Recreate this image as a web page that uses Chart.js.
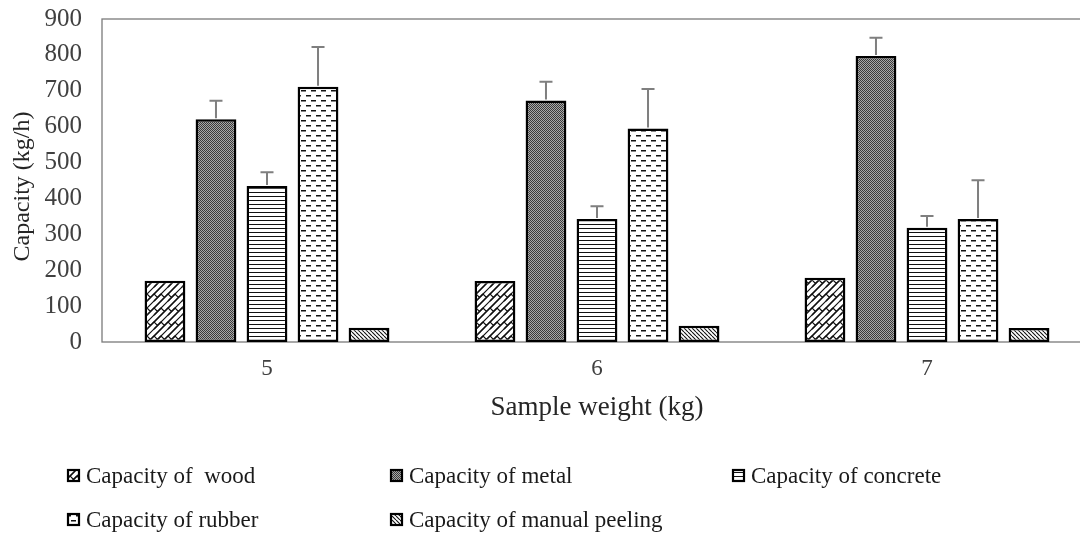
<!DOCTYPE html>
<html>
<head>
<meta charset="utf-8">
<script src="https://cdn.jsdelivr.net/npm/chart.js@4.4.1/dist/chart.umd.min.js"></script>
<style>
  html, body { margin: 0; padding: 0; background: #ffffff; overflow: hidden; }
  #wrap { position: relative; width: 1100px; height: 533px; }
</style>
</head>
<body>
<div id="wrap"><canvas id="c" width="1100" height="533"></canvas></div>
<script>
// ---- data ----
const categories = ['5', '6', '7'];
const seriesNames = ['Capacity of  wood', 'Capacity of metal', 'Capacity of concrete', 'Capacity of rubber', 'Capacity of manual peeling'];
const woodValues = [171, 170, 179];
const metalValues = [621, 673, 797];
const concreteValues = [435, 343, 318];
const rubberValues = [711, 595, 343];
const manualValues = [40, 45, 39];
const woodErr = [0, 0, 0];
const metalErr = [51, 52, 51];
const concreteErr = [38, 35, 33];
const rubberErr = [111, 110, 108];
const manualErr = [0, 0, 0];
const yTickValues = [0, 100, 200, 300, 400, 500, 600, 700, 800, 900];
const xTitle = 'Sample weight (kg)';
const yTitle = 'Capacity (kg/h)';

// ---- patterns ----
function makeTile(w, h, draw) {
  const c = document.createElement('canvas');
  c.width = w; c.height = h;
  const g = c.getContext('2d');
  g.fillStyle = '#ffffff';
  g.fillRect(0, 0, w, h);
  draw(g, w, h);
  return document.createElement('canvas').getContext('2d').createPattern(c, 'repeat');
}
const woodPat = makeTile(14, 14, (g) => {
  g.strokeStyle = '#111'; g.lineWidth = 1.2;
  for (const dx of [-14, 0, 14]) for (const dy of [-14, 0, 14]) {
    g.beginPath();
    for (const k of [0, 7, 14, 21, 28]) { g.moveTo(dx + k, dy); g.lineTo(dx, dy + k); }
    g.moveTo(dx + 0, dy + 0); g.lineTo(dx + 3.5, dy + 3.5);
    g.moveTo(dx + 7, dy + 0); g.lineTo(dx + 10.5, dy + 3.5);
    g.stroke();
  }
});
const metalPat = makeTile(2, 2, (g) => {
  g.fillStyle = '#3a3a3a'; g.fillRect(0, 0, 1, 1); g.fillRect(1, 1, 1, 1);
  g.fillStyle = '#a8a8a8'; g.fillRect(1, 0, 1, 1); g.fillRect(0, 1, 1, 1);
});
const concretePat = makeTile(4, 4, (g) => {
  g.fillStyle = '#111'; g.fillRect(0, 0, 4, 1);
});
const rubberPat = makeTile(10, 10, (g) => {
  g.fillStyle = '#111';
  g.fillRect(1, 0, 5, 1.5);
  g.fillRect(6, 5, 5, 1.5); g.fillRect(-4, 5, 5, 1.5);
});
const manualPat = makeTile(4, 4, (g) => {
  g.strokeStyle = '#111'; g.lineWidth = 1.1;
  g.beginPath();
  for (const d of [-4, 0, 4]) { g.moveTo(d, 0); g.lineTo(d + 4, 4); }
  g.stroke();
});

const seriesValues = [woodValues, metalValues, concreteValues, rubberValues, manualValues];
const seriesErrs = [woodErr, metalErr, concreteErr, rubberErr, manualErr];
const seriesPats = [woodPat, metalPat, concretePat, rubberPat, manualPat];

const datasets = seriesNames.map((name, i) => ({
  label: name,
  data: seriesValues[i],
  errors: seriesErrs[i],
  backgroundColor: seriesPats[i],
  borderColor: '#000000',
  borderWidth: 2.5,
  borderSkipped: false,
  categoryPercentage: 0.773,
  barPercentage: 0.8
}));

const FONT = "'Liberation Serif', 'Times New Roman', serif";

const errorBars = {
  id: 'errorBars',
  afterDatasetsDraw(chart) {
    const ctx = chart.ctx;
    const y = chart.scales.y;
    ctx.save();
    ctx.strokeStyle = '#7f7f7f';
    ctx.lineWidth = 2;
    chart.data.datasets.forEach((ds, di) => {
      const meta = chart.getDatasetMeta(di);
      meta.data.forEach((bar, i) => {
        const e = ds.errors[i];
        if (!e) return;
        const v = ds.data[i];
        const y0 = y.getPixelForValue(v);
        const y1 = y.getPixelForValue(v + e);
        ctx.beginPath();
        ctx.moveTo(bar.x, y0 - 1);
        ctx.lineTo(bar.x, y1);
        ctx.moveTo(bar.x - 6.5, y1);
        ctx.lineTo(bar.x + 6.5, y1);
        ctx.stroke();
      });
    });
    ctx.restore();
  }
};

const frame = {
  id: 'frame',
  beforeDatasetsDraw(chart) {
    const {ctx, chartArea: a} = chart;
    ctx.save();
    ctx.strokeStyle = '#7a7a7a';
    ctx.lineWidth = 1.3;
    ctx.strokeRect(a.left, a.top, a.right - a.left, a.bottom - a.top);
    ctx.restore();
  }
};

const legendPos = [
  {bx: 67, tx: 86, y: 483},
  {bx: 390, tx: 409, y: 483},
  {bx: 732, tx: 751, y: 483},
  {bx: 67, tx: 86, y: 527},
  {bx: 390, tx: 409, y: 527}
];
const customLegend = {
  id: 'customLegend',
  afterDraw(chart) {
    const ctx = chart.ctx;
    ctx.save();
    chart.data.datasets.forEach((ds, i) => {
      const p = legendPos[i];
      ctx.fillStyle = ds.backgroundColor;
      ctx.fillRect(p.bx, p.y - 14, 13, 13);
      ctx.strokeStyle = '#000';
      ctx.lineWidth = 2.2;
      ctx.strokeRect(p.bx + 1, p.y - 13, 11, 11);
      ctx.fillStyle = '#1a1a1a';
      ctx.font = '23px ' + FONT;
      ctx.textBaseline = 'alphabetic';
      ctx.textAlign = 'left';
      ctx.fillText(ds.label, p.tx, p.y);
    });
    ctx.restore();
  }
};

function zeroPad(s) { s.paddingTop = 0; s.paddingBottom = 0; s.paddingLeft = 0; s.paddingRight = 0; }

new Chart(document.getElementById('c'), {
  type: 'bar',
  data: { labels: categories, datasets },
  plugins: [frame, errorBars, customLegend],
  options: {
    responsive: false,
    animation: false,
    layout: { padding: { top: 19, right: 8, bottom: 101, left: 0 } },
    plugins: { legend: { display: false }, tooltip: { enabled: false } },
    scales: {
      x: {
        grid: { display: false, drawTicks: false },
        border: { display: false },
        ticks: { padding: 13, color: '#404040', font: { family: FONT, size: 23 } },
        title: { display: true, text: xTitle, color: '#262626', padding: { top: 4, bottom: 8 }, font: { family: FONT, size: 27 } },
        afterFit(s) { s.height = 90; zeroPad(s); }
      },
      y: {
        min: 0, max: 900,
        afterBuildTicks(s) { s.ticks = yTickValues.map(v => ({ value: v })); },
        grid: { display: false, drawTicks: false },
        border: { display: false },
        ticks: { padding: 20, color: '#404040', font: { family: FONT, size: 25 } },
        title: { display: true, text: yTitle + '  ', color: '#262626', padding: { top: 8, bottom: 0 }, font: { family: FONT, size: 24 } },
        afterFit(s) { s.width = 102; zeroPad(s); }
      }
    }
  }
});
</script>
</body>
</html>
